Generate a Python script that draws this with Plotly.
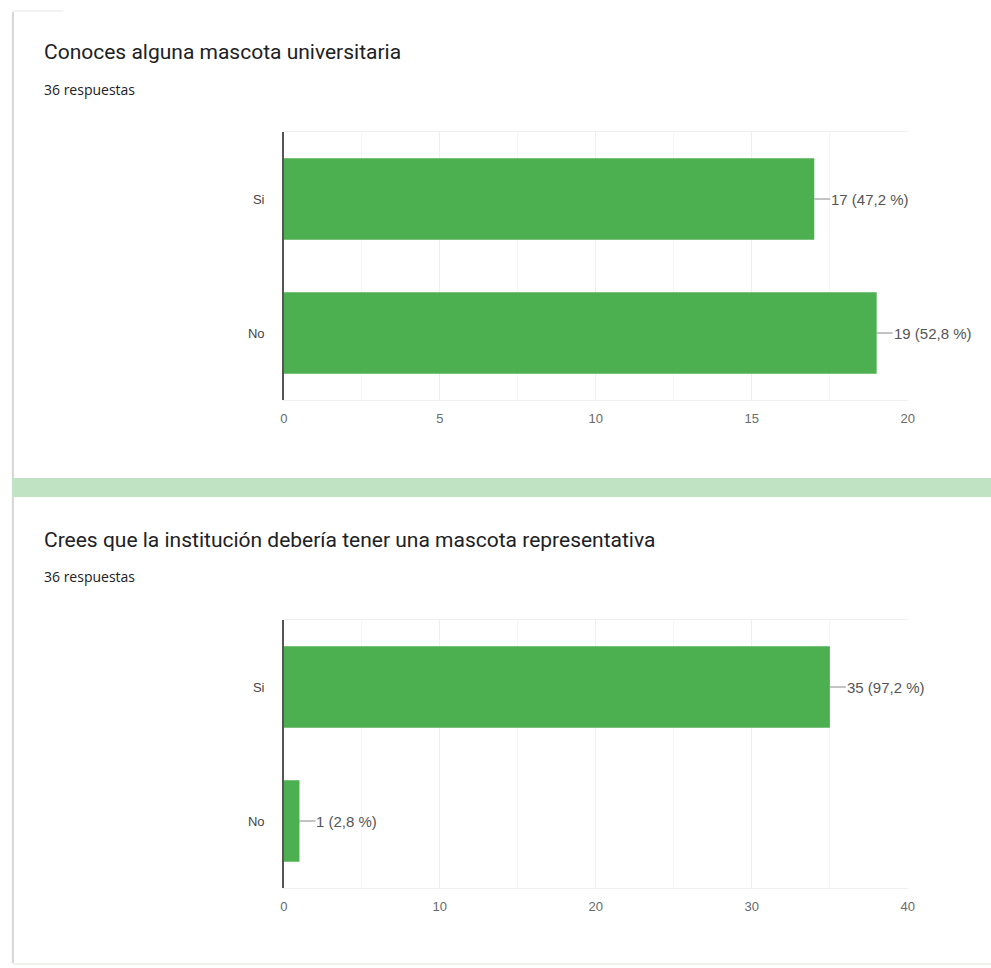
import plotly.graph_objects as go

W, H = 991, 968

# ---- data ----
categories = ["Si", "No"]
q1_title = "Conoces alguna mascota universitaria"
q1_values = [17, 19]
q1_pct = ["47,2", "52,8"]
q2_title = "Crees que la institución debería tener una mascota representativa"
q2_values = [35, 1]
q2_pct = ["97,2", "2,8"]
responses_label = "36 respuestas"
q1_ticks = [0, 5, 10, 15, 20]
q2_ticks = [0, 10, 20, 30, 40]

GREEN = "#4caf50"
AXFONT = dict(family="Liberation Sans, Arial, sans-serif", size=13, color="#6a6a6a")


def py(px):
    return 1 - px / H


def px_(x):
    return x / W


fig = go.Figure()
fig.add_trace(go.Bar(x=q1_values, y=categories, orientation="h", marker=dict(color=GREEN, line=dict(width=0)),
                     xaxis="x", yaxis="y", hoverinfo="skip"))
fig.add_trace(go.Bar(x=q2_values, y=categories, orientation="h", marker=dict(color=GREEN, line=dict(width=0)),
                     xaxis="x2", yaxis="y2", hoverinfo="skip"))

x_dom = [px_(283), px_(914)]

def xaxis(ticks, minor, anchor):
    return dict(domain=x_dom, range=[ticks[0], ticks[-1]], tickvals=ticks, anchor=anchor,
                showgrid=True, gridcolor="#efefef", gridwidth=1,
                minor=dict(tickvals=[t + minor for t in ticks[:-1]], showgrid=True, gridcolor="#f5f5f5"),
                zeroline=False, showline=True, linecolor="#efefef", linewidth=1, mirror=True,
                ticks="outside", ticklen=6, tickcolor="rgba(0,0,0,0)",
                tickfont=AXFONT, fixedrange=True)

def yaxis(top, bottom, anchor):
    return dict(domain=[py(bottom), py(top)], anchor=anchor, type="category",
                categoryorder="array", categoryarray=categories, autorange="reversed",
                showgrid=False, zeroline=False, showline=True, linecolor="#555555", linewidth=1.5,
                ticks="outside", ticklen=15, tickcolor="rgba(0,0,0,0)",
                tickfont=dict(family="Liberation Sans, Arial, sans-serif", size=13, color="#444444"),
                fixedrange=True)

fig.update_layout(
    width=W, height=H, margin=dict(l=0, r=0, t=0, b=0),
    paper_bgcolor="white", plot_bgcolor="rgba(0,0,0,0)",
    showlegend=False, bargap=0.39,
    xaxis=xaxis(q1_ticks, 2.5, "y"),
    yaxis=yaxis(132, 400, "x"),
    xaxis2=xaxis(q2_ticks, 5, "y2"),
    yaxis2=yaxis(620, 888, "x2"),
)

# ---- cards and separator ----
shapes = []
# card 1 left edge and faint top
shapes.append(dict(type="line", xref="paper", yref="paper", x0=px_(9), x1=px_(9), y0=py(478), y1=py(12),
                   line=dict(color="#d6d6d6", width=2), layer="below"))
shapes.append(dict(type="line", xref="paper", yref="paper", x0=px_(9), x1=px_(60), y0=py(11), y1=py(11),
                   line=dict(color="#eeeeee", width=1.5), layer="below"))
# card 2 left edge and bottom
shapes.append(dict(type="line", xref="paper", yref="paper", x0=px_(9), x1=px_(9), y0=py(963), y1=py(497),
                   line=dict(color="#d6d6d6", width=2), layer="below"))
shapes.append(dict(type="line", xref="paper", yref="paper", x0=px_(9), x1=px_(1000), y0=py(964), y1=py(964),
                   line=dict(color="#e6f2e7", width=1.5), layer="below"))
# green separator band
shapes.append(dict(type="rect", xref="paper", yref="paper", x0=px_(8), x1=px_(1000), y0=py(497), y1=py(478),
                   line=dict(width=0), fillcolor="#bfe3c3", layer="below"))
fig.update_layout(shapes=shapes)

# ---- texts ----
ann = []
TFONT = "Roboto, Noto Sans, sans-serif"
for title, ty in [(q1_title, 52), (q2_title, 540)]:
    ann.append(dict(text=title, xref="paper", yref="paper", x=px_(38), y=py(ty), xanchor="left", yanchor="middle",
                    showarrow=False, font=dict(family=TFONT, size=21, color="#202124")))
for ry in [89, 576]:
    ann.append(dict(text=responses_label, xref="paper", yref="paper", x=px_(38), y=py(ry), xanchor="left",
                    yanchor="middle", showarrow=False, font=dict(family="Open Sans, sans-serif", size=14, color="#202124")))

LFONT = dict(family="Liberation Sans, Arial, sans-serif", size=15, color="#555555")
for vals, pcts, xr, yr in [(q1_values, q1_pct, "x", "y"), (q2_values, q2_pct, "x2", "y2")]:
    for c, v, p in zip(categories, vals, pcts):
        ann.append(dict(text=f"{v} ({p} %)", xref=xr, yref=yr, x=v, y=c, showarrow=True, arrowhead=0,
                        arrowwidth=1, arrowcolor="#888888", ax=16, ay=0, xanchor="left", yanchor="middle",
                        standoff=0, borderpad=0, font=LFONT))
fig.update_layout(annotations=ann)

fig.write_html("out.html", config={"displayModeBar": False})
